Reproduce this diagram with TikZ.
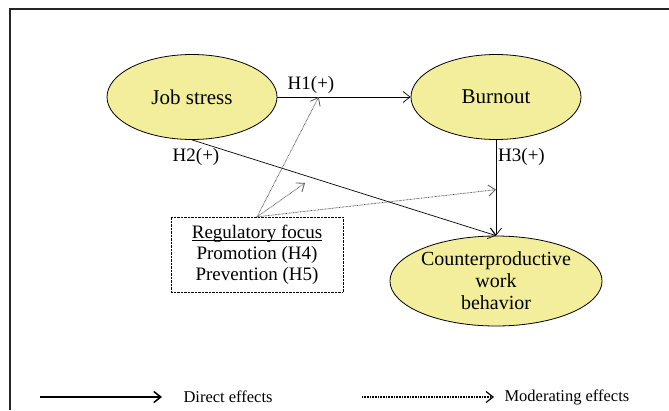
\documentclass[tikz,border=0pt]{standalone}
\usepackage{fontspec}
\setmainfont{Liberation Serif}
\usepackage{tikz}
\usetikzlibrary{calc,positioning,shapes.geometric,arrows.meta}
\definecolor{latent}{RGB}{242,238,155}
\definecolor{modgray}{RGB}{85,85,85}
\newcommand{\ulinetext}[1]{\setbox0\hbox{#1}\rlap{\rule[-2.5pt]{\wd0}{0.8pt}}\box0}
\begin{document}
\begin{tikzpicture}[x=1pt,y=-1pt,
    construct/.style={ellipse,draw,thick,fill=latent,inner sep=0pt,minimum width=170,minimum height=85,font=\fontsize{21}{22}\selectfont},
    direct/.style={-{Straight Barb[length=7pt,width=11pt]},line width=0.7pt},
    moderate/.style={-{Straight Barb[length=7pt,width=11pt]},dash pattern=on 0.7pt off 0.7pt,modgray,line width=0.8pt},
    hyp/.style={font=\fontsize{19}{19}\selectfont,inner sep=1pt}]
  \useasboundingbox (0,0) rectangle (669,410);
  \draw[line width=2.5pt,black!85] (10,410) -- (10,9) -- (669,9);
  % constructs
  \node[construct] (js) at (192,97) {Job stress};
  \node[construct] (bo) at (496,97) {Burnout};
  \node[construct,minimum height=90,align=center,font=\fontsize{20}{22}\selectfont] (cwb) at (496,281) {Counterproductive\\work\\behavior};
  \node[draw,densely dotted,minimum width=172,minimum height=75,inner sep=0pt,align=center,
        font=\fontsize{19}{21}\selectfont] (rf) at (257,254.5) {\ulinetext{Regulatory focus}\\Promotion (H4)\\Prevention (H5)};
  % direct effects
  \draw[direct] (js.east) -- (bo.west);
  \draw[direct] (js.south) -- (cwb.north);
  \draw[direct] (bo.south) -- (cwb.north);
  \node[hyp,anchor=south] at (311,95) {H1(+)};
  \node[hyp] at (196,157) {H2(+)};
  \node[hyp,anchor=west] at (497,157) {H3(+)};
  % moderating effects
  \coordinate (m1) at ($(js.east)!0.31!(bo.west)$);
  \coordinate (m2) at (305,183);
  \coordinate (m3) at ($(bo.south)!0.52!(cwb.north)$);
  \draw[moderate] (rf.north) -- (m1);
  \draw[moderate] (rf.north) -- (m2);
  \draw[moderate] (rf.north) -- (m3);
  % legend
  \coordinate (l1) at (40,397);
  \coordinate (l2) at (162,397);
  \coordinate (l3) at (362,397);
  \coordinate (l4) at (494,397);
  \draw[-{Straight Barb[length=7pt,width=11pt]},line width=1.5pt] (l1) -- (l2);
  \node[anchor=west,font=\fontsize{16.5}{16}\selectfont] (de) at (180,397) {Direct effects};
  \draw[-{Straight Barb[length=7pt,width=11pt]},dash pattern=on 0.8pt off 0.8pt,line width=1.2pt] (l3) -- (l4);
  \node[anchor=west,font=\fontsize{16.5}{16}\selectfont] (me) at (501,397) {Moderating effects};
\end{tikzpicture}
\end{document}
